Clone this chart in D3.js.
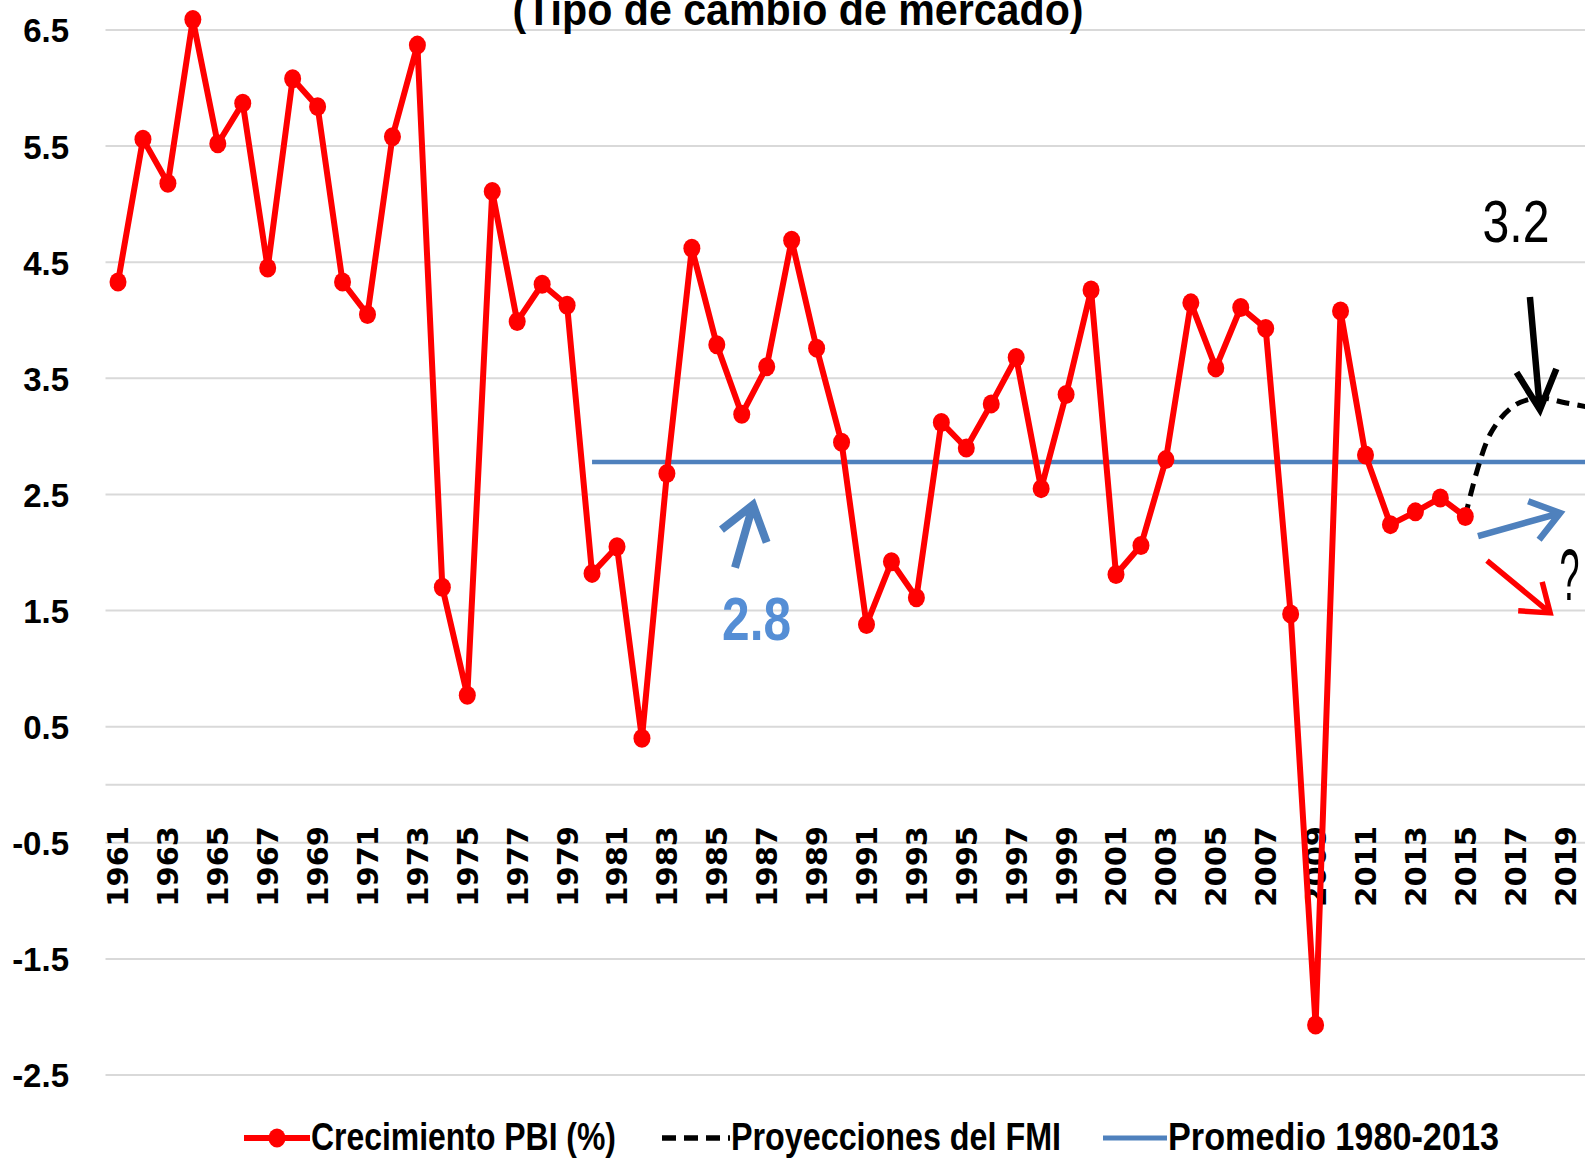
<!DOCTYPE html>
<html>
<head>
<meta charset="utf-8">
<script src="https://cdn.jsdelivr.net/npm/d3@7"></script>
<style>
  html, body { margin: 0; padding: 0; background: #ffffff; overflow: hidden; }
  svg { display: block; }
</style>
</head>
<body>
<svg id="chart" width="1585" height="1158"></svg>
<script>
// ---------------- DATA ----------------
const years = d3.range(1961, 2021); // category axis 1961..2020
const growthYears = d3.range(1961, 2016);
const growthValues = [
  4.33, 5.56, 5.18, 6.59, 5.52, 5.87, 4.45, 6.08, 5.84, 4.33,
  4.05, 5.58, 6.37, 1.70, 0.77, 5.11, 3.99, 4.31, 4.13, 1.82,
  2.05, 0.40, 2.68, 4.62, 3.79, 3.19, 3.60, 4.69, 3.76, 2.95,
  1.38, 1.92, 1.61, 3.12, 2.90, 3.28, 3.68, 2.55, 3.36, 4.26,
  1.81, 2.06, 2.80, 4.15, 3.59, 4.11, 3.93, 1.47, -2.07, 4.08,
  2.84, 2.24, 2.35, 2.47, 2.31
];
const projYears = [2015, 2016, 2017, 2018, 2019, 2020];
const projValues = [2.31, 3.02, 3.27, 3.33, 3.29, 3.25];
const avgYears = d3.range(1980, 2021);
const avgValue = 2.78;
const yTicks = [-2.5, -1.5, -0.5, 0.5, 1.5, 2.5, 3.5, 4.5, 5.5, 6.5];
const yTickLabels = ["-2.5", "-1.5", "-0.5", "0.5", "1.5", "2.5", "3.5", "4.5", "5.5", "6.5"];
const xLabelYears = d3.range(1961, 2020, 2);
const titleText = "(Tipo de cambio de mercado)";
const legendLabels = ["Crecimiento PBI (%)", "Proyecciones del FMI", "Promedio 1980-2013"];
// annotations in data units (year, value)
const arrows = [
  { from: [2017.59, 4.20], to: [2017.99, 3.23], color: "#000000", w: 6.5, head: 44, ang: 27 },
  { from: [2015.51, 2.14], to: [2018.80, 2.34], color: "#4F81BD", w: 6.5, head: 34, ang: 36 },
  { from: [2015.87, 1.93], to: [2018.40, 1.48], color: "#FF0000", w: 5.5, head: 32, ang: 36 },
  { from: [1985.73, 1.87], to: [1986.45, 2.41], color: "#4F81BD", w: 8, head: 40, ang: 36 }
];
const notes = [
  { text: "3.2", at: [2017.03, 4.67], color: "#000000", size: 60, weight: "normal", anchor: "middle", len: 67 },
  { text: "2.8", at: [1985.21, 1.25], color: "#558ED5", size: 62, weight: "bold", anchor: "start", len: 69 },
  { text: "?", at: [2018.78, 1.59], color: "#000000", size: 72, weight: "normal", anchor: "start", len: 20 }
];

// ---------------- SCALES ----------------
const svg = d3.select("#chart");
const W = 1585, H = 1158;
const step = 24.95;
const x = d3.scalePoint().domain(years).range([118, 118 + step * (years.length - 1)]);
const y = d3.scaleLinear().domain([-2.5, 6.5]).range([1075, 30]);
const plotLeft = 105.5, plotRight = W;

const narrow = "'Liberation Sans Narrow', 'Arial Narrow', 'Liberation Sans', sans-serif";

svg.append("rect").attr("width", W).attr("height", H).attr("fill", "#fff");

// gridlines
svg.append("g").selectAll("line").data(yTicks).join("line")
  .attr("x1", plotLeft).attr("x2", plotRight)
  .attr("y1", d => y(d)).attr("y2", d => y(d))
  .attr("stroke", "#D9D9D9").attr("stroke-width", 2);
// category axis line at 0
svg.append("line")
  .attr("x1", plotLeft).attr("x2", plotRight)
  .attr("y1", y(0)).attr("y2", y(0))
  .attr("stroke", "#D9D9D9").attr("stroke-width", 2);

// y axis labels
const yAxis = d3.axisLeft(y).tickValues(yTicks)
  .tickFormat((d, i) => yTickLabels[i]).tickSize(0).tickPadding(0);
const yg = svg.append("g").attr("transform", "translate(69,0)").call(yAxis);
yg.select(".domain").remove();
yg.selectAll("text")
  .attr("font-family", "'Liberation Sans', Arial, sans-serif")
  .attr("font-weight", "bold").attr("font-size", 33).attr("fill", "#000")
  .attr("dy", "0.36em");

// x axis labels (rotated)
svg.append("g").selectAll("text").data(xLabelYears).join("text")
  .attr("transform", d => `translate(${x(d)},826) rotate(-90)`)
  .attr("text-anchor", "end")
  .attr("dy", "0.36em")
  .attr("font-family", "'DejaVu Sans', Verdana, sans-serif")
  .attr("font-weight", "bold").attr("font-size", 29).attr("fill", "#000")
  .text(d => d);

// title (partially cut off at top, as in the original)
svg.append("text")
  .attr("x", 798).attr("y", 25)
  .attr("text-anchor", "middle")
  .attr("font-family", narrow).attr("font-weight", "bold").attr("font-size", 44)
  .attr("textLength", 571).attr("lengthAdjust", "spacingAndGlyphs")
  .text(titleText);

// average line
svg.append("path")
  .datum(avgYears)
  .attr("fill", "none").attr("stroke", "#4F81BD").attr("stroke-width", 4.5)
  .attr("d", d3.line().x(d => x(d)).y(() => y(avgValue)));

// projection dashed
const projData = projYears.map((yr, i) => [yr, projValues[i]]);
svg.append("path")
  .datum(projData)
  .attr("fill", "none").attr("stroke", "#000").attr("stroke-width", 5)
  .attr("stroke-dasharray", "13,8")
  .attr("d", d3.line().curve(d3.curveCatmullRom.alpha(0.5)).x(d => x(d[0])).y(d => y(d[1])));

// growth line
const gData = growthYears.map((yr, i) => [yr, growthValues[i]]);
svg.append("path")
  .datum(gData)
  .attr("fill", "none").attr("stroke", "#FF0000").attr("stroke-width", 6)
  .attr("stroke-linejoin", "round")
  .attr("d", d3.line().x(d => x(d[0])).y(d => y(d[1])));
svg.append("g").selectAll("ellipse").data(gData).join("ellipse")
  .attr("cx", d => x(d[0])).attr("cy", d => y(d[1]))
  .attr("rx", 8.5).attr("ry", 9.5).attr("fill", "#FF0000");

// arrows
const xc = v => 118 + (v - 1961) * step;
const ag = svg.append("g");
arrows.forEach(a => {
  const x1 = xc(a.from[0]), y1 = y(a.from[1]);
  const x2 = xc(a.to[0]), y2 = y(a.to[1]);
  const ang = Math.atan2(y1 - y2, x1 - x2);
  const h = a.ang * Math.PI / 180;
  const p1 = [x2 + a.head * Math.cos(ang + h), y2 + a.head * Math.sin(ang + h)];
  const p2 = [x2 + a.head * Math.cos(ang - h), y2 + a.head * Math.sin(ang - h)];
  const path = d3.path();
  path.moveTo(x1, y1); path.lineTo(x2, y2);
  path.moveTo(p1[0], p1[1]); path.lineTo(x2, y2); path.lineTo(p2[0], p2[1]);
  ag.append("path").attr("d", path.toString())
    .attr("fill", "none").attr("stroke", a.color).attr("stroke-width", a.w)
    .attr("stroke-linejoin", "miter").attr("stroke-linecap", "butt");
});

// annotation texts
svg.append("g").selectAll("text").data(notes).join("text")
  .attr("x", d => xc(d.at[0])).attr("y", d => y(d.at[1]))
  .attr("text-anchor", d => d.anchor)
  .attr("font-family", narrow).attr("font-weight", d => d.weight)
  .attr("font-size", d => d.size).attr("fill", d => d.color)
  .attr("textLength", d => d.len).attr("lengthAdjust", "spacingAndGlyphs")
  .text(d => d.text);

// legend
const lg = svg.append("g");
const ly = 1138;
lg.append("line").attr("x1", 244).attr("x2", 310).attr("y1", ly).attr("y2", ly)
  .attr("stroke", "#FF0000").attr("stroke-width", 6);
lg.append("ellipse").attr("cx", 277).attr("cy", ly).attr("rx", 8.5).attr("ry", 9.5).attr("fill", "#FF0000");
lg.append("line").attr("x1", 662).attr("x2", 730).attr("y1", ly).attr("y2", ly)
  .attr("stroke", "#000").attr("stroke-width", 5.5).attr("stroke-dasharray", "14,8");
lg.append("line").attr("x1", 1103).attr("x2", 1167).attr("y1", ly).attr("y2", ly)
  .attr("stroke", "#4F81BD").attr("stroke-width", 5);
const legPos = [[311, 305], [731, 330], [1168, 331]];
legendLabels.forEach((t, i) => {
  lg.append("text").attr("x", legPos[i][0]).attr("y", 1150)
    .attr("font-family", narrow).attr("font-weight", "bold").attr("font-size", 38)
    .attr("textLength", legPos[i][1]).attr("lengthAdjust", "spacingAndGlyphs")
    .attr("fill", "#000").text(t);
});
</script>
</body>
</html>
